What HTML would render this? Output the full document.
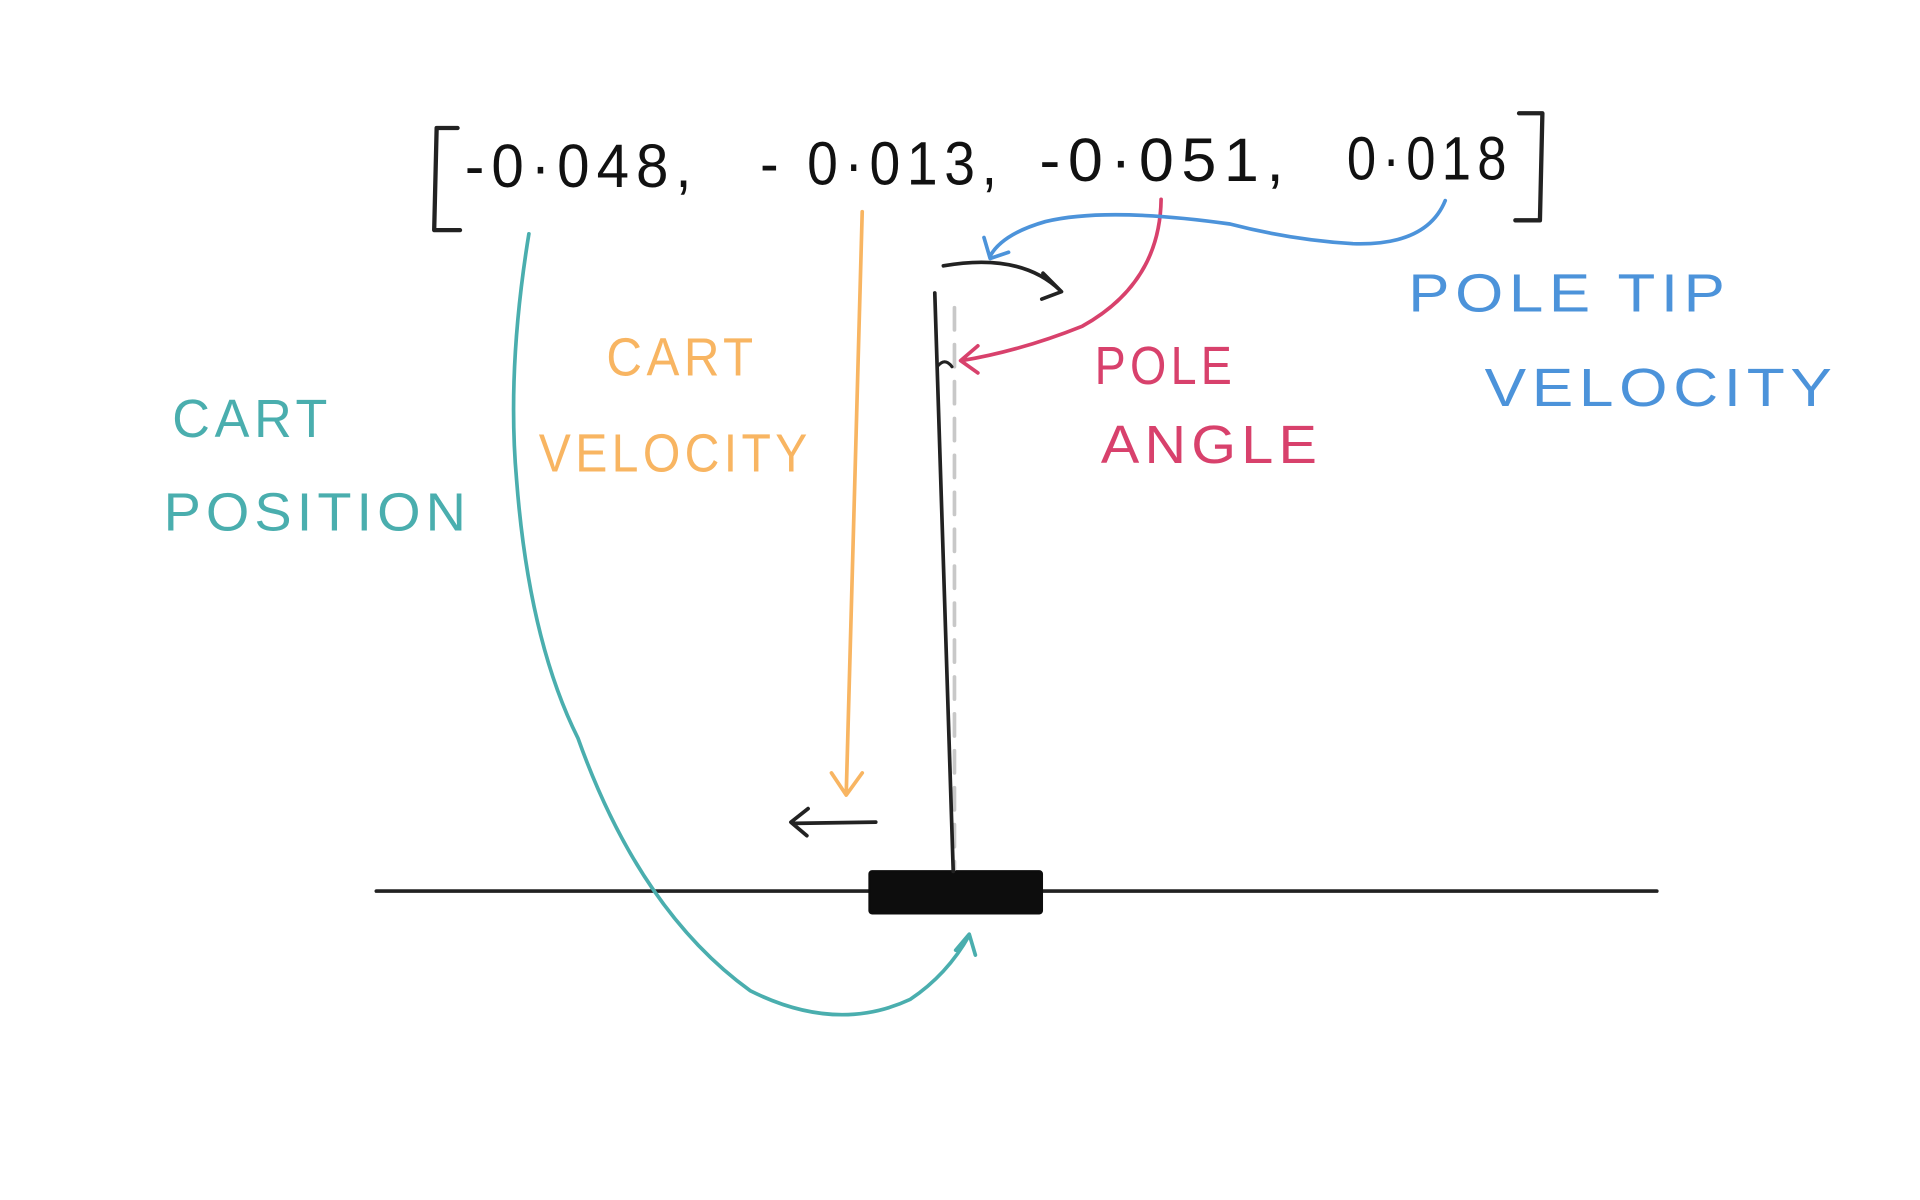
<!DOCTYPE html>
<html><head><meta charset="utf-8"><style>
html,body{margin:0;padding:0;background:#fff;width:1920px;height:1200px;overflow:hidden}
svg{display:block}
text{font-family:"Liberation Sans Narrow","Liberation Sans",sans-serif}
</style></head><body>
<svg width="1920" height="1200" viewBox="0 0 1561 975" preserveAspectRatio="none" fill="none" stroke-linecap="round" stroke-linejoin="round">
<rect x="0" y="0" width="1561" height="975" fill="#fff" stroke="none"/>
<g>
<path d="M372 104 L355 104 L353 187 L374 187" stroke="#222" stroke-width="3.5"/>
<path d="M1235 92 L1254 92 L1252 179 L1232 179" stroke="#222" stroke-width="3.5"/>
<g fill="#111" stroke="none" font-size="50" letter-spacing="6" font-weight="300">
<text x="378" y="152" textLength="190" lengthAdjust="spacingAndGlyphs">-0·048,</text>
<text x="618" y="150" textLength="198" lengthAdjust="spacingAndGlyphs">- 0·013,</text>
<text x="845" y="147" textLength="205" lengthAdjust="spacingAndGlyphs">-0·051,</text>
<text x="1095" y="146" textLength="135" lengthAdjust="spacingAndGlyphs">0·018</text>
</g>
</g>
<g stroke="none" font-size="44" letter-spacing="4">
<text x="140" y="355" fill="#4aaeae" textLength="130" lengthAdjust="spacingAndGlyphs">CART</text>
<text x="133" y="431" fill="#4aaeae" textLength="250" lengthAdjust="spacingAndGlyphs">POSITION</text>
<text x="493" y="305" fill="#f8b562" textLength="123" lengthAdjust="spacingAndGlyphs">CART</text>
<text x="438" y="383" fill="#f8b562" textLength="222" lengthAdjust="spacingAndGlyphs">VELOCITY</text>
<text x="890" y="312" fill="#d8416c" textLength="115" lengthAdjust="spacingAndGlyphs">POLE</text>
<text x="895" y="376" fill="#d8416c" textLength="180" lengthAdjust="spacingAndGlyphs">ANGLE</text>
<text x="1145" y="253" fill="#4c93da" textLength="262" lengthAdjust="spacingAndGlyphs">POLE TIP</text>
<text x="1207" y="330" fill="#4c93da" textLength="287" lengthAdjust="spacingAndGlyphs">VELOCITY</text>
</g>
<line x1="306" y1="724" x2="1347" y2="724" stroke="#222" stroke-width="3"/>
<rect x="707" y="708" width="140" height="34" rx="2" fill="#0d0d0d" stroke="#0d0d0d" stroke-width="2"/>
<line x1="776" y1="250" x2="776" y2="706" stroke="#c8c8c8" stroke-width="3" stroke-dasharray="18,12"/>
<line x1="760" y1="238" x2="775" y2="708" stroke="#222" stroke-width="3"/>
<path d="M762 298 Q768 290 774 298" stroke="#222" stroke-width="2.5"/>
<path d="M767 216 Q830 205 862 236 M848 222 L863 237 L847 243" stroke="#222" stroke-width="3"/>
<path d="M712 668 L645 669 M657 657 L643 668 L656 679" stroke="#222" stroke-width="3"/>
<path d="M430 190 Q412 300 420 390 Q430 520 470 600 Q520 740 610 805 Q680 840 740 812 Q770 792 788 760 M777 772 L788 759 L793 776" stroke="#4aaeae" stroke-width="3"/>
<path d="M701 172 L688 645 M676 628 L688 646 L701 628" stroke="#f8b562" stroke-width="3"/>
<path d="M944 162 Q943 230 880 265 Q830 285 782 293 M795 281 L781 293 L795 303" stroke="#d8416c" stroke-width="3"/>
<path d="M1175 163 Q1160 200 1100 198 Q1050 195 1000 182 Q900 168 850 180 Q815 190 805 208 M800 193 L805 210 L820 205" stroke="#4c93da" stroke-width="3"/>
</svg>
</body></html>
